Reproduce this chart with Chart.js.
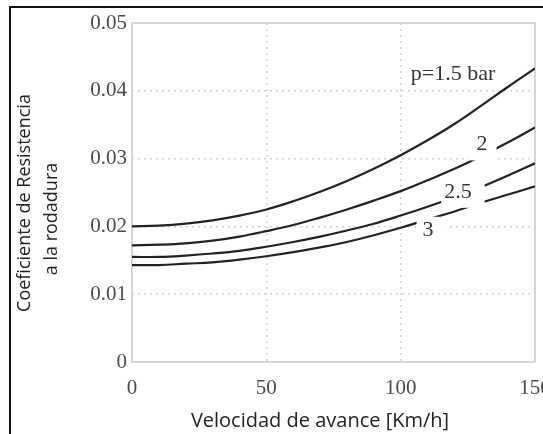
<!DOCTYPE html>
<html><head><meta charset="utf-8">
<script src="https://cdn.jsdelivr.net/npm/chart.js@4.4.0/dist/chart.umd.min.js"></script>
<style>html,body{margin:0;padding:0;background:#fff;}canvas{display:block;}</style>
</head><body>
<canvas id="c" width="543" height="434"></canvas>
<script>
// ---- data ----
const speeds = [0,10,20,30,40,50,60,70,80,90,100,110,120,130,140,150];
const p15 = [0.0200,0.0201,0.0204,0.0209,0.0216,0.0225,0.0237,0.0251,0.0267,0.0285,0.0305,0.0327,0.0351,0.0378,0.0406,0.0433];
const p20 = [0.0172,0.0173,0.0175,0.0179,0.0185,0.0193,0.0202,0.0213,0.0225,0.0238,0.0252,0.0268,0.0285,0.0304,0.0324,0.0346];
const p25 = [0.0155,0.0155,0.0157,0.0160,0.0164,0.0170,0.0177,0.0185,0.0194,0.0204,0.0216,0.0229,0.0243,0.0258,0.0275,0.0293];
const p30 = [0.0143,0.0143,0.0145,0.0147,0.0151,0.0156,0.0162,0.0169,0.0177,0.0187,0.0198,0.0210,0.0222,0.0235,0.0247,0.0259];
const xTicks = [0,50,100,150];
const yTicks = [0,0.01,0.02,0.03,0.04,0.05];
const curveLabels = ['p=1.5 bar','2','2.5','3'];
const labelX = [119.5,130.3,121.3,110.2];
const labelY = [0.0424,0.0321,0.0251,0.0195];
const xTitle = 'Velocidad de avance [Km/h]';
const yTitle = ['Coeficiente de Resistencia','a la rodadura'];

const toPts = arr => speeds.map((s,i)=>({x:s,y:arr[i]}));
const serif = "'Liberation Serif','Times New Roman',serif";
const sans = "'Open Sans','Noto Sans',sans-serif";

// label gap boxes (pixel padding around each label: left,right,top,bottom)
const labelPad = [[0,0,0,0],[8,9,7,8],[3,13,5,8],[6,12,5,8]];

const decor = {
  id:'decor',
  beforeDatasetsDraw(chart){
    const {ctx, chartArea:a} = chart;
    ctx.save();
    ctx.strokeStyle = '#d6d6d6';
    ctx.lineWidth = 2;
    ctx.strokeRect(a.left, a.top, a.right-a.left, a.bottom-a.top);
    ctx.restore();
  },
  afterDatasetsDraw(chart){
    const {ctx} = chart;
    const xs = chart.scales.x, ys = chart.scales.y;
    ctx.save();
    ctx.font = '22px ' + serif;
    ctx.textAlign = 'center';
    ctx.textBaseline = 'middle';
    curveLabels.forEach((t,i)=>{
      const px = xs.getPixelForValue(labelX[i]);
      const py = ys.getPixelForValue(labelY[i]);
      const w = ctx.measureText(t).width;
      const [pl,pr,pt,pb] = labelPad[i];
      ctx.fillStyle = '#fff';
      ctx.fillRect(px - w/2 - pl, py - 8 - pt, w + pl + pr, 16 + pt + pb);
      ctx.fillStyle = '#333';
      ctx.fillText(t, px, py);
    });
    ctx.restore();
  },
  afterDraw(chart){
    const {ctx} = chart;
    ctx.save();
    // titles
    ctx.fillStyle = '#222';
    ctx.textAlign = 'center';
    ctx.textBaseline = 'middle';
    ctx.font = '20px ' + sans;
    ctx.fillText(xTitle, 320, 421);
    ctx.font = '18px ' + sans;
    ctx.save();
    ctx.translate(25, 203);
    ctx.rotate(-Math.PI/2);
    ctx.fillText(yTitle[0], 0, 0);
    ctx.restore();
    ctx.save();
    ctx.translate(52, 219);
    ctx.rotate(-Math.PI/2);
    ctx.fillText(yTitle[1], 0, 0);
    ctx.restore();
    // outer frame of the picture
    ctx.strokeStyle = '#111';
    ctx.lineWidth = 2;
    ctx.beginPath();
    ctx.moveTo(10, 434);
    ctx.lineTo(10, 7);
    ctx.lineTo(543, 7);
    ctx.stroke();
    ctx.restore();
  }
};

const ds = (d) => ({data: toPts(d), borderColor:'#222', borderWidth:2.2, pointRadius:0, tension:0.4, fill:false});

new Chart(document.getElementById('c'), {
  type:'line',
  data:{ datasets:[ds(p15), ds(p20), ds(p25), ds(p30)] },
  options:{
    responsive:false, animation:false,
    layout:{padding:{left:0, top:23, right:8, bottom:0}},
    plugins:{legend:{display:false}, tooltip:{enabled:false}},
    scales:{
      x:{
        type:'linear', min:0, max:150,
        afterBuildTicks(s){ s.ticks = xTicks.map(v=>({value:v})); },
        afterFit(s){ s.height = 72; s.paddingLeft = 0; s.paddingRight = 0; },
        ticks:{font:{family:serif, size:21}, color:'#4a4a4a', padding:14, maxRotation:0},
        grid:{color:'#d2d2d2', lineWidth:1.5, drawTicks:false},
        border:{display:false, dash:[2,4]}
      },
      y:{
        min:0, max:0.05,
        afterBuildTicks(s){ s.ticks = yTicks.map(v=>({value:v})); },
        afterFit(s){ s.width = 132; s.paddingTop = 0; s.paddingBottom = 0; },
        ticks:{font:{family:serif, size:21}, color:'#4a4a4a', padding:5, callback:v=>String(v)},
        grid:{color:'#d2d2d2', lineWidth:1.5, drawTicks:false},
        border:{display:false, dash:[2,4]}
      }
    }
  },
  plugins:[decor]
});
</script>
</body></html>
